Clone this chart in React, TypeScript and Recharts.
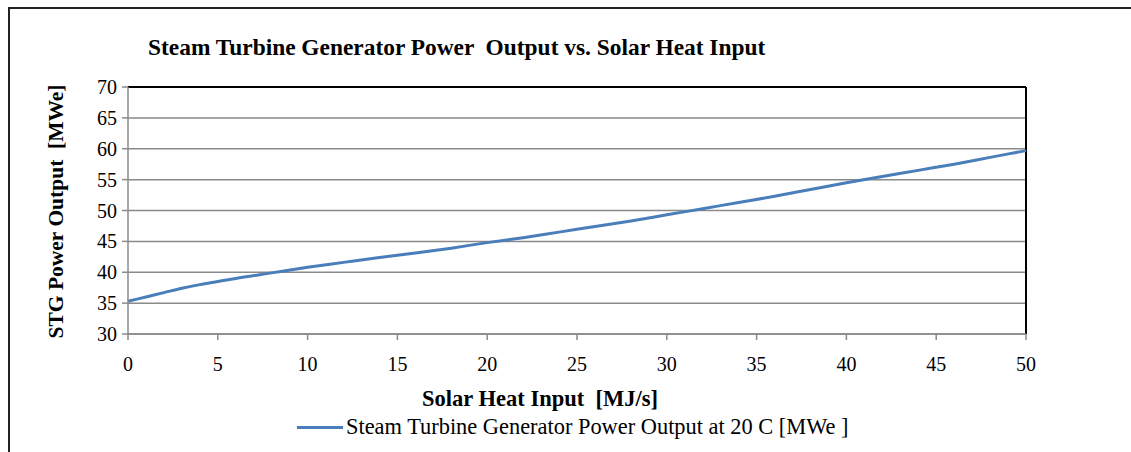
import {
  LineChart, Line, XAxis, YAxis, CartesianGrid, Legend, ReferenceLine,
} from 'recharts'

const SOLAR_HEAT = [0, 1, 2, 3, 4, 5, 6, 8, 10, 12, 14, 16, 18, 20, 22, 24, 26, 28, 30, 32, 34, 36, 38, 40, 42, 44, 46, 48, 50]
const STG_OUTPUT = [35.3, 36.0, 36.7, 37.4, 38.0, 38.5, 39.0, 39.9, 40.8, 41.6, 42.4, 43.1, 43.9, 44.8, 45.6, 46.5, 47.4, 48.3, 49.3, 50.3, 51.3, 52.3, 53.4, 54.5, 55.5, 56.5, 57.5, 58.6, 59.7]
const X_TICKS = [0, 5, 10, 15, 20, 25, 30, 35, 40, 45, 50]
const Y_TICKS = [30, 35, 40, 45, 50, 55, 60, 65, 70]

const SERIES_NAME = 'Steam Turbine Generator Power Output at 20 C [MWe ]'
const LINE_COLOR = '#4a7ebb'
const GRID = '#8a8a8a'
const FONT = '"Liberation Serif", "Times New Roman", serif'

const data = SOLAR_HEAT.map((x, i) => ({ x, y: STG_OUTPUT[i] }))

export default function App() {
  return (
    <div style={{ position: 'absolute', left: 0, top: 0, width: 1131, height: 452, background: '#fff', fontFamily: FONT, overflow: 'hidden' }}>
      {/* outer frame, cropped on the right and bottom */}
      <div style={{ position: 'absolute', left: 8, top: 7, width: 1200, height: 500, borderLeft: '2px solid #222', borderTop: '2px solid #222' }} />
      <div style={{ position: 'absolute', left: 148, top: 34, fontSize: 23.4, fontWeight: 'bold', color: '#000', whiteSpace: 'pre' }}>
        {'Steam Turbine Generator Power  Output vs. Solar Heat Input'}
      </div>
      <LineChart
        width={1131}
        height={452}
        data={data}
        margin={{ top: 87, right: 105, left: 88, bottom: 88 }}
        style={{ position: 'absolute', left: 0, top: 0 }}
      >
        <CartesianGrid stroke={GRID} strokeWidth={1.5} vertical={false} />
        <XAxis
          dataKey="x"
          type="number"
          domain={[0, 50]}
          ticks={X_TICKS}
          height={30}
          tick={{ fill: '#000', fontSize: 20, fontFamily: FONT }}
          tickSize={6}
          tickMargin={17}
          axisLine={{ stroke: GRID, strokeWidth: 1.5 }}
          tickLine={{ stroke: GRID, strokeWidth: 1.5 }}
          label={{ value: 'Solar Heat Input\u00A0\u00A0[MJ/s]', position: 'center', dx: -37, dy: 49, fill: '#000', fontSize: 22.5, fontWeight: 'bold', fontFamily: FONT }}
        />
        <YAxis
          type="number"
          domain={[30, 70]}
          ticks={Y_TICKS}
          width={40}
          tick={{ fill: '#000', fontSize: 20, fontFamily: FONT }}
          tickSize={6}
          tickMargin={5}
          axisLine={{ stroke: GRID, strokeWidth: 1.5 }}
          tickLine={{ stroke: GRID, strokeWidth: 1.5 }}
          label={{ value: 'STG Power Output\u00A0\u00A0[MWe]', angle: -90, position: 'center', dx: -53, dy: 1, fill: '#000', fontSize: 21.5, fontWeight: 'bold', fontFamily: FONT }}
        />
        <ReferenceLine y={70} stroke="#000" strokeWidth={2} />
        <ReferenceLine x={50} stroke="#000" strokeWidth={2} />
        <Legend
          layout="horizontal"
          verticalAlign="middle"
          align="center"
          wrapperStyle={{ position: 'absolute', left: 297, top: 414, width: 'auto', height: 28 }}
          content={() => (
            <div style={{ display: 'flex', alignItems: 'center', fontFamily: FONT, fontSize: 22.4, color: '#000', whiteSpace: 'pre' }}>
              <span style={{ display: 'inline-block', width: 46, height: 3, background: LINE_COLOR, marginRight: 3 }} />
              <span>{SERIES_NAME}</span>
            </div>
          )}
        />
        <Line
          type="monotone"
          dataKey="y"
          name={SERIES_NAME}
          stroke={LINE_COLOR}
          strokeWidth={3}
          dot={false}
          isAnimationActive={false}
        />
      </LineChart>
    </div>
  )
}
